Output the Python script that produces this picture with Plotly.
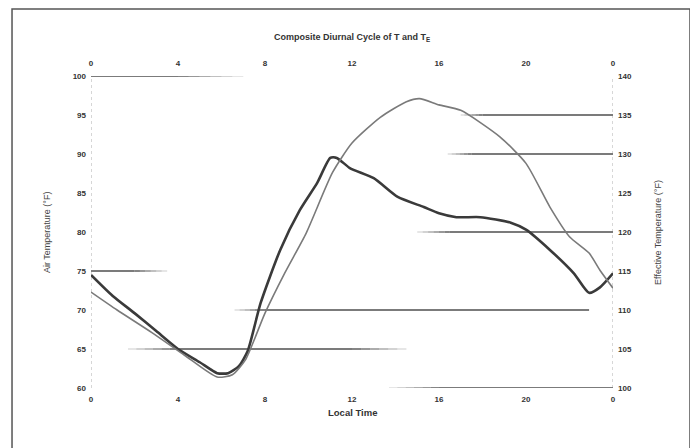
import plotly.graph_objects as go

# ---- data ----
hours_air = [0, 1, 2, 3, 4, 5, 5.8, 6.3, 6.8, 7.2, 7.8, 8.7, 9.6, 10.4, 11.0, 11.3,
             11.9, 13.0, 14.1, 15.3, 16.0, 16.8, 17.9, 19.3, 20.0, 21.1, 22.2, 22.9, 23.4, 24]
air_temp = [74.5, 71.8, 69.6, 67.3, 65.0, 63.3, 61.9, 61.9, 62.8, 64.7, 70.9, 77.7, 82.8, 86.3,
            89.5, 89.5, 88.2, 86.9, 84.5, 83.2, 82.4, 81.9, 81.9, 81.2, 80.3, 77.7, 74.7, 72.2, 72.9, 74.7]

hours_eff = [0, 1.2, 2.8, 4.3, 5.8, 6.5, 7.1, 8.0, 8.9, 9.9, 11.1, 12.0, 13.3, 14.5, 15.1,
             16.0, 17.0, 18.8, 20.0, 21.1, 22.0, 22.9, 23.4, 24]
eff_temp = [112.3, 110.0, 107.1, 104.2, 101.4, 101.7, 103.6, 109.6, 114.7, 119.9, 127.6, 131.4,
            134.7, 136.7, 137.1, 136.3, 135.6, 132.2, 128.8, 123.2, 119.4, 117.3, 115.1, 112.8]

x_tickvals = [0, 4, 8, 12, 16, 20, 24]
x_ticktext = ["0", "4", "8", "12", "16", "20", "0"]
left_ticks = [60, 65, 70, 75, 80, 85, 90, 95, 100]
right_ticks = [100, 105, 110, 115, 120, 125, 130, 135, 140]

# scanned gridline fragments: (left-axis value, fade-in start, solid start, solid end, fade-out end)
grid_fragments = [
    (100, 0, 0, 4, 7),
    (75, 0, 0, 2, 3.5),
    (65, 1.7, 4, 12, 14.5),
    (70, 6.6, 8, 22.9, 22.9),
    (60, 13.7, 16, 24, 24),
    (95, 17, 18, 24, 24),
    (90, 16.4, 17.5, 24, 24),
    (80, 15, 16.5, 24, 24),
]

FONT = "Liberation Sans"
TXT = "#333333"

fig = go.Figure()
fig.add_trace(go.Scatter(x=hours_eff, y=eff_temp, mode="lines", xaxis="x2", yaxis="y2",
                         line=dict(color="#7a7a7a", width=1.6, shape="spline", smoothing=0.6),
                         name="Te", showlegend=False))
fig.add_trace(go.Scatter(x=hours_air, y=air_temp, mode="lines", xaxis="x", yaxis="y",
                         line=dict(color="#3a3a3a", width=2.6, shape="spline", smoothing=0.6),
                         name="T", showlegend=False))

shapes = []
def seg(x0, x1, yv, op):
    shapes.append(dict(type="line", xref="x", yref="y", x0=x0, x1=x1, y0=yv, y1=yv,
                       line=dict(color=f"rgba(60,60,60,{op:.2f})", width=1.5), layer="below"))

for yv, fa, sa, sb, fb in grid_fragments:
    n = 6
    if sa > fa:
        for i in range(n):
            a = fa + (sa - fa) * i / n
            b = fa + (sa - fa) * (i + 1) / n
            seg(a, b, yv, 0.1 + 0.8 * (i + 0.5) / n)
    seg(sa, sb, yv, 0.9)
    if fb > sb:
        for i in range(n):
            a = sb + (fb - sb) * i / n
            b = sb + (fb - sb) * (i + 1) / n
            seg(a, b, yv, 0.9 - 0.8 * (i + 0.5) / n)

# faint dotted axes
for xv in [0, 24]:
    shapes.append(dict(type="line", xref="x", yref="y", x0=xv, x1=xv, y0=60, y1=100,
                       line=dict(color="rgba(120,120,120,0.6)", width=1, dash="dot"), layer="below"))

# outer border (bottom edge lies below the visible area)
shapes.append(dict(type="rect", xref="paper", yref="paper", x0=-0.1513, x1=1.1475, y0=-0.35, y1=1.2147,
                   line=dict(color="#555555", width=1.5)))

tickfont = dict(family=FONT, size=8, color=TXT, weight="bold")
axis_common = dict(showgrid=False, zeroline=False, showline=False, ticks="", tickfont=tickfont)

fig.update_layout(
    width=690, height=440,
    margin=dict(l=83, r=85, t=68, b=60),
    paper_bgcolor="#ffffff", plot_bgcolor="rgba(0,0,0,0)",
    showlegend=False,
    xaxis=dict(range=[0, 24], tickvals=x_tickvals, ticktext=x_ticktext, ticklabelstandoff=5,
               **axis_common),
    xaxis2=dict(range=[0, 24], tickvals=x_tickvals, ticktext=x_ticktext, overlaying="x", side="top",
                ticklabelstandoff=7, **axis_common),
    yaxis=dict(range=[60, 100], tickvals=left_ticks, ticklabelstandoff=4, **axis_common),
    yaxis2=dict(range=[100, 140], tickvals=right_ticks, overlaying="y", side="right",
                ticklabelstandoff=4, **axis_common),
    shapes=shapes,
    annotations=[
        dict(text="<b>Composite Diurnal Cycle of T and T<sub>E</sub></b>", xref="paper", yref="paper",
             x=0.5, y=1.125, xanchor="center", yanchor="middle", showarrow=False,
             font=dict(family=FONT, size=9, color=TXT)),
        dict(text="<b>Local Time</b>", xref="paper", yref="paper", x=0.5, y=-0.077,
             xanchor="center", yanchor="middle", showarrow=False,
             font=dict(family=FONT, size=9.5, color=TXT)),
        dict(text="Air Temperature (°F)", xref="paper", yref="paper", x=-0.0843, y=0.5,
             xanchor="center", yanchor="middle", textangle=-90, showarrow=False,
             font=dict(family=FONT, size=9, color="#444")),
        dict(text="Effective Temperature (°F)", xref="paper", yref="paper", x=1.086, y=0.5,
             xanchor="center", yanchor="middle", textangle=-90, showarrow=False,
             font=dict(family=FONT, size=9, color="#444")),
    ],
)

fig.write_html("out.html")
